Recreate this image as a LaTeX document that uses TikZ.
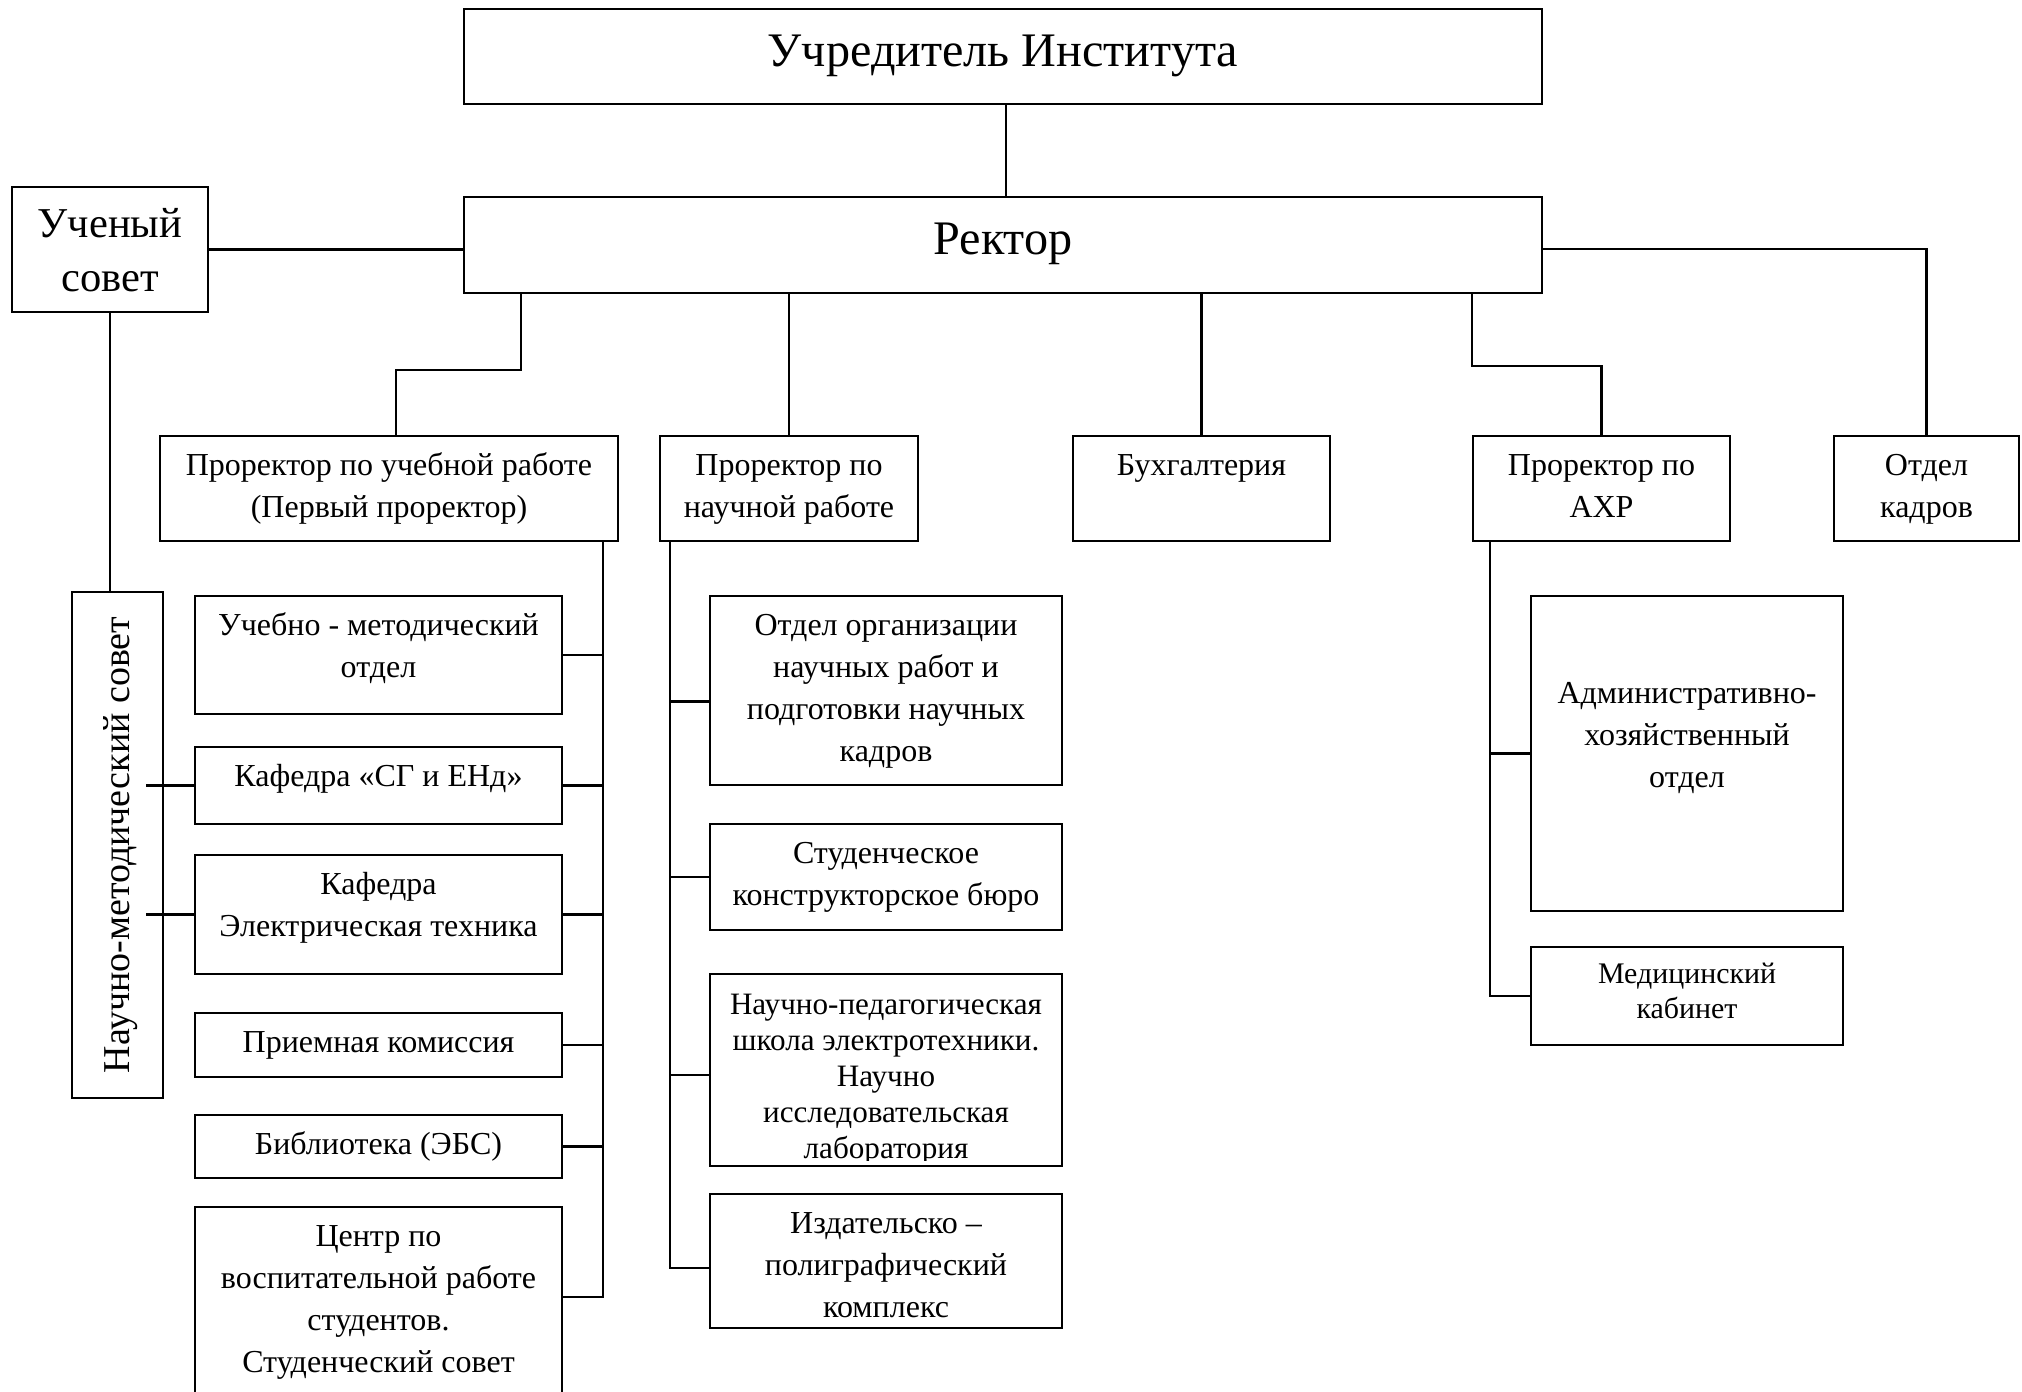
\documentclass[tikz,border=0pt]{standalone}
\usepackage{fontspec}
\setmainfont{Liberation Serif}
\usepackage{tikz}
\usetikzlibrary{calc,fit}
\newcommand\fsmall{\fontsize{9.1}{12}\selectfont}
\newcommand\fschool{\fontsize{8.85}{10.2}\selectfont}
\newcommand\fmed{\fontsize{8.5}{9.8}\selectfont}
\newcommand\fbig{\fontsize{13.7}{15.6}\selectfont}
\newcommand\fcouncil{\fontsize{12.1}{15.6}\selectfont}
\newcommand\fmid{\fontsize{10.8}{12}\selectfont}
\tikzset{
  frame/.style={draw, line width=0.6pt, inner sep=0pt},
  txt/.style={inner sep=0pt, align=center, anchor=north, font=\fsmall},
  link/.style={line width=0.6pt},
}
\def\orgbox{\node[frame]}

\begin{document}
\begin{tikzpicture}[x=0.01cm,y=-0.01cm]
\useasboundingbox (0,0) rectangle (2022,1392);

% ---------- top level ----------
\orgbox[fit={(464,9) (1542,104)}] (uchr) {};
\orgbox[fit={(464,197) (1542,293)}] (rektor) {};
\orgbox[fit={(12,187) (208,312)}] (usovet) {};
\node[txt, font=\fbig] (uchr-t) at ($(uchr.north)+(0,19)$) {\strut Учредитель Института};
\node[txt, font=\fbig] (rektor-t) at ($(rektor.north)+(0,19)$) {\strut Ректор};
\node[txt, font=\fcouncil] (usovet-t) at ($(usovet.north)+(0,12)$) {\strut Ученый\\совет};

% ---------- second row ----------
\orgbox[fit={(160,436) (618,541)}] (pru) {};
\orgbox[fit={(660,436) (918,541)}] (prn) {};
\orgbox[fit={(1073,436) (1330,541)}] (buh) {};
\orgbox[fit={(1473,436) (1730,541)}] (ahr) {};
\orgbox[fit={(1834,436) (2019,541)}] (kadry) {};
\node[txt] (pru-t) at ($(pru.north)+(0,10)$) {\strut Проректор по учебной работе\\(Первый проректор)};
\node[txt] (prn-t) at ($(prn.north)+(0,10)$) {\strut Проректор по\\научной работе};
\node[txt] (buh-t) at ($(buh.north)+(0,10)$) {\strut Бухгалтерия};
\node[txt] (ahr-t) at ($(ahr.north)+(0,10)$) {\strut Проректор по\\АХР};
\node[txt] (kadry-t) at ($(kadry.north)+(0,10)$) {\strut Отдел\\кадров};

% ---------- council on the left ----------
\orgbox[fit={(72,592) (163,1098)}] (nms) {};
\node[rotate=90, inner sep=0pt, font=\fmid] (nms-t) at ($(nms.center)+(3,0)$) {Научно-методический совет};

% ---------- educational branch ----------
\orgbox[fit={(195,596) (562,714)}] (umo) {};
\orgbox[fit={(195,747) (562,824)}] (ksg) {};
\orgbox[fit={(195,855) (562,974)}] (ket) {};
\orgbox[fit={(195,1013) (562,1077)}] (priem) {};
\orgbox[fit={(195,1115) (562,1178)}] (bibl) {};
\orgbox[fit={(195,1207) (562,1430)}] (centr) {}; % runs off the page
\node[txt] (umo-t) at ($(umo.north)+(0,10)$) {\strut Учебно - методический\\отдел};
\node[txt] (ksg-t) at ($(ksg.north)+(0,10)$) {\strut Кафедра «СГ и ЕНд»};
\node[txt] (ket-t) at ($(ket.north)+(0,10)$) {\strut Кафедра\\Электрическая техника};
\node[txt] (priem-t) at ($(priem.north)+(0,10)$) {\strut Приемная комиссия};
\node[txt] (bibl-t) at ($(bibl.north)+(0,10)$) {\strut Библиотека (ЭБС)};
\node[txt] (centr-t) at ($(centr.north)+(0,10)$) {\strut Центр по\\воспитательной работе\\студентов.\\Студенческий совет};

% ---------- research branch ----------
\orgbox[fit={(710,596) (1062,785)}] (otdorg) {};
\orgbox[fit={(710,824) (1062,930)}] (skb) {};
\orgbox[fit={(710,974) (1062,1166)}] (npsh) {};
\orgbox[fit={(710,1194) (1062,1328)}] (izd) {};
\node[txt] (otdorg-t) at ($(otdorg.north)+(0,10)$) {\strut Отдел организации\\научных работ и\\подготовки научных\\кадров};
\node[txt] (skb-t) at ($(skb.north)+(0,10)$) {\strut Студенческое\\конструкторское бюро};
\begin{scope}
\clip ($(npsh.north west)+(2,2)$) rectangle ($(npsh.south east)+(-2,-7)$); % last line is cut
\node[txt, font=\fschool] (npsh-t) at ($(npsh.north)+(0,16)$) {\strut Научно-педагогическая\\школа электротехники.\\Научно\\исследовательская\\лаборатория};
\end{scope}
\node[txt] (izd-t) at ($(izd.north)+(0,10)$) {\strut Издательско –\\полиграфический\\комплекс};

% ---------- administrative branch ----------
\orgbox[fit={(1531,596) (1843,911)}] (aho) {};
\orgbox[fit={(1531,947) (1843,1045)}] (med) {};
\node[txt] (aho-t) at ($(aho.north)+(0,78)$) {\strut Административно-\\хозяйственный\\отдел};
\node[txt, font=\fmed] (med-t) at ($(med.north)+(0,13)$) {\strut Медицинский\\кабинет};

% ---------- links ----------
\draw[link] ($(uchr.south)+(3,0)$) -- ($(rektor.north)+(3,0)$);
\draw[link] (usovet.east) -- (usovet.east -| rektor.west);
\draw[link] ($(rektor.east)+(0,4)$) -| (kadry.north);
\draw[link] ($(rektor.south west)+(58,0)$) -- ++(0,76) -| ($(pru.north)+(7,0)$);
\draw[link] (prn.north) -- (prn.north |- rektor.south);
\draw[link] (buh.north) -- (buh.north |- rektor.south);
\draw[link] (ahr.north west |- rektor.south) -- ++(0,72) -| (ahr.north);
\draw[link] (usovet.south) -- (usovet.south |- nms.north);
\draw[link] (ksg.west) -- ++(-48,0);
\draw[link] (ket.west) -- ++(-48,0);

% left bus
\coordinate (lbus) at ($(pru.south east)+(-16,0)$);
\coordinate (centr-in) at ($(centr.north east)+(0,91)$);
\draw[link] (lbus) |- (centr-in);
\foreach \b in {umo,ksg,ket,priem,bibl}
  \draw[link] (\b.east) -- (\b.east -| lbus);

% middle bus
\coordinate (mbus) at ($(prn.south west)+(11,0)$);
\coordinate (izd-in) at ($(izd.west)+(0,7)$);
\coordinate (otdorg-in) at ($(otdorg.west)+(0,11)$);
\coordinate (npsh-in) at ($(npsh.west)+(0,5)$);
\draw[link] (mbus) |- (izd-in);
\draw[link] (otdorg-in) -- (otdorg-in -| mbus);
\draw[link] (skb.west) -- (skb.west -| mbus);
\draw[link] (npsh-in) -- (npsh-in -| mbus);

% right bus
\coordinate (rbus) at ($(ahr.south west)+(18,0)$);
\draw[link] (rbus) |- (med.west);
\draw[link] (aho.west) -- (aho.west -| rbus);
\end{tikzpicture}
\end{document}
